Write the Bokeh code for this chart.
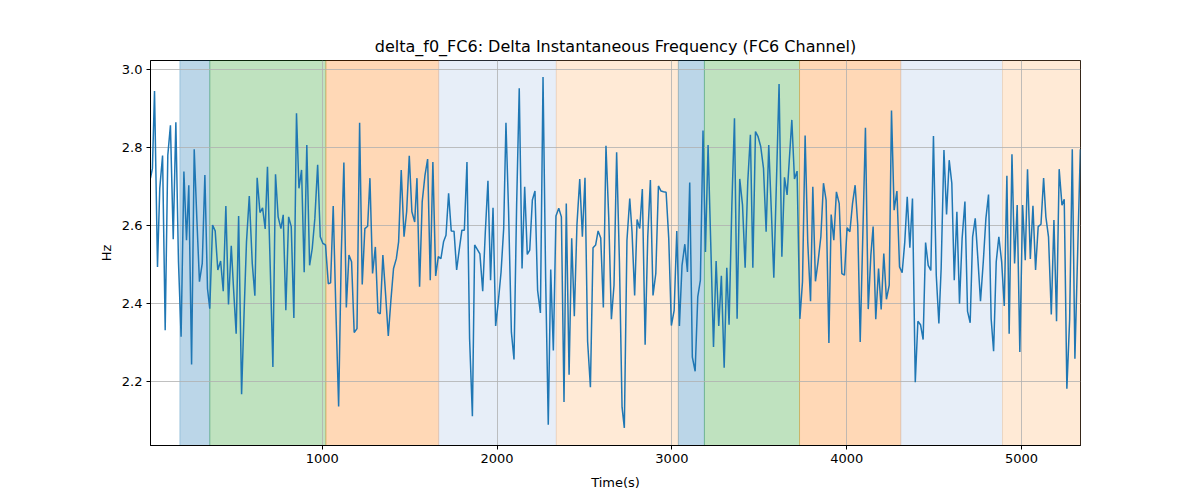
from bokeh.plotting import figure
from bokeh.models import Range1d, BoxAnnotation, FixedTicker, PrintfTickFormatter
from bokeh.embed import file_html
from bokeh.resources import INLINE

# values
time_s = [18, 29, 41, 58, 71, 87, 102, 117, 132, 148, 163, 178, 193, 209, 224, 237, 253, 268, 283, 298,
          314, 329, 344, 357, 373, 388, 403, 419, 434, 449, 464, 480, 493, 508, 522, 539, 554, 567, 583, 600,
          615, 628, 644, 659, 674, 687, 703, 718, 733, 748, 764, 777, 792, 808, 823, 838, 853, 867, 882, 897,
          912,
          928, 943, 958, 974, 989, 1004, 1019, 1035, 1048, 1063, 1078, 1094, 1109, 1124, 1138, 1153, 1168, 1183, 1199, 1214,
          1229, 1244, 1260, 1273, 1288, 1304, 1319, 1332, 1347, 1363, 1378, 1393, 1408, 1424, 1437, 1452, 1468, 1483, 1498, 1513,
          1529, 1542, 1557, 1572, 1588, 1603, 1618, 1633, 1649, 1664, 1679, 1694, 1708, 1723, 1738, 1754, 1769, 1784,
          1799, 1813, 1828, 1843, 1859, 1872, 1887, 1902, 1918, 1933, 1948, 1963, 1977, 1992, 2007, 2023, 2038, 2051, 2066, 2082,
          2097, 2112, 2127, 2143, 2158, 2173, 2187, 2202, 2217, 2232, 2248, 2263, 2278, 2293, 2307, 2322, 2337, 2353, 2368, 2383,
          2396, 2412, 2427, 2442, 2457, 2473, 2488, 2503, 2518, 2534, 2549, 2564, 2578, 2593, 2608, 2623, 2639, 2654, 2669, 2684,
          2700, 2715, 2728, 2743, 2759,
          2772, 2787, 2801, 2816, 2831, 2847, 2862, 2877, 2892, 2908, 2923, 2938, 2952, 2967, 2982, 2997, 3013, 3028, 3043, 3058,
          3074, 3089, 3102, 3117, 3133, 3148, 3163, 3178, 3192, 3207, 3222, 3238, 3253, 3268, 3283, 3299, 3314, 3327, 3343, 3358,
          3373, 3388, 3404, 3419, 3434, 3449, 3463, 3478, 3493, 3508, 3524, 3539, 3554, 3569, 3583, 3598, 3613, 3629, 3644, 3659,
          3686, 3701, 3716, 3732, 3747, 3762, 3777, 3793, 3806, 3821, 3836, 3852, 3867, 3882, 3898, 3911, 3926, 3941, 3957, 3972,
          3987, 4002, 4018, 4033, 4048, 4063, 4077, 4092, 4107, 4123, 4138, 4151, 4166, 4182, 4197, 4212, 4227, 4243, 4256, 4271,
          4287, 4302, 4317, 4332, 4346, 4361, 4376, 4392, 4407, 4422, 4437, 4451, 4466, 4481,
          4496, 4512, 4527, 4540, 4556, 4571, 4586, 4601, 4615, 4630, 4645, 4660, 4676, 4691, 4706, 4720, 4735, 4750, 4765, 4781,
          4796, 4811, 4826, 4840, 4855, 4870, 4886, 4901, 4916, 4929, 4945, 4960, 4975, 4990, 5006, 5021, 5034, 5050, 5065, 5080,
          5095, 5111, 5126, 5139, 5154, 5170, 5185, 5200, 5215, 5231, 5244, 5259, 5275, 5290, 5305, 5336]

delta_hz = [2.721, 2.746, 2.944, 2.494, 2.695, 2.779, 2.332, 2.780, 2.856, 2.565, 2.864, 2.507, 2.315, 2.738, 2.562, 2.703, 2.244, 2.795, 2.618, 2.456,
            2.503, 2.729, 2.438, 2.387, 2.601, 2.586, 2.486, 2.509, 2.432, 2.650, 2.398, 2.548, 2.438, 2.323, 2.624, 2.168, 2.387, 2.558, 2.675, 2.503,
            2.420, 2.722, 2.633, 2.645, 2.591, 2.750, 2.490, 2.238, 2.731, 2.622, 2.592, 2.627, 2.383, 2.622, 2.597, 2.363, 2.887, 2.695, 2.742, 2.480,
            2.806,
            2.498, 2.541, 2.618, 2.755, 2.571, 2.554, 2.550, 2.451, 2.453, 2.650, 2.387, 2.137, 2.524, 2.761, 2.390, 2.524, 2.507, 2.326, 2.336, 2.863,
            2.449, 2.592, 2.598, 2.721, 2.477, 2.545, 2.377, 2.374, 2.524, 2.421, 2.317, 2.409, 2.490, 2.515, 2.558, 2.742, 2.571, 2.635, 2.778, 2.635,
            2.609, 2.721, 2.443, 2.661, 2.729, 2.770, 2.460, 2.762, 2.471, 2.520, 2.515, 2.558, 2.575, 2.682, 2.586, 2.585, 2.486, 2.539,
            2.588, 2.588, 2.762, 2.310, 2.112, 2.550, 2.539, 2.527, 2.432, 2.584, 2.714, 2.460, 2.645, 2.343, 2.404, 2.481, 2.592, 2.863, 2.635, 2.327,
            2.257, 2.652, 2.951, 2.490, 2.699, 2.526, 2.537, 2.665, 2.688, 2.434, 2.376, 2.980, 2.464, 2.090, 2.487, 2.280, 2.624, 2.644, 2.622, 2.148,
            2.656, 2.218, 2.567, 2.368, 2.602, 2.719, 2.571, 2.722, 2.303, 2.186, 2.543, 2.550, 2.586, 2.568, 2.390, 2.804, 2.618, 2.360, 2.447, 2.787,
            2.507, 2.135, 2.082, 2.562, 2.669,
            2.584, 2.421, 2.615, 2.592, 2.693, 2.295, 2.571, 2.716, 2.421, 2.477, 2.701, 2.688, 2.686, 2.685, 2.567, 2.344, 2.383, 2.586, 2.343, 2.498,
            2.552, 2.481, 2.710, 2.263, 2.227, 2.417, 2.460, 2.843, 2.532, 2.806, 2.558, 2.289, 2.509, 2.343, 2.471, 2.236, 2.492, 2.346, 2.652, 2.874,
            2.361, 2.719, 2.652, 2.492, 2.712, 2.832, 2.492, 2.840, 2.827, 2.802, 2.746, 2.584, 2.806, 2.635, 2.466, 2.712, 2.962, 2.520, 2.723, 2.678,
            2.870, 2.719, 2.739, 2.361, 2.456, 2.830, 2.558, 2.406, 2.699, 2.457, 2.507, 2.571, 2.708, 2.665, 2.299, 2.628, 2.562, 2.686, 2.656, 2.477,
            2.473, 2.594, 2.584, 2.656, 2.703, 2.601, 2.302, 2.575, 2.850, 2.386, 2.524, 2.597, 2.360, 2.490, 2.385, 2.528, 2.411, 2.447, 2.894, 2.639,
            2.688, 2.494, 2.479, 2.558, 2.673, 2.543, 2.669, 2.199, 2.355, 2.346, 2.308, 2.556, 2.498, 2.485,
            2.829, 2.473, 2.349, 2.490, 2.793, 2.628, 2.767, 2.708, 2.460, 2.635, 2.400, 2.567, 2.661, 2.380, 2.351, 2.571, 2.618, 2.515, 2.406, 2.507,
            2.618, 2.679, 2.361, 2.278, 2.507, 2.571, 2.507, 2.394, 2.727, 2.323, 2.782, 2.503, 2.652, 2.276, 2.652, 2.511, 2.744, 2.514, 2.650, 2.486,
            2.597, 2.603, 2.721, 2.622, 2.571, 2.372, 2.614, 2.355, 2.744, 2.652, 2.667, 2.182, 2.361, 2.795, 2.259, 2.795]

# shaded segments
seg_start = [186, 357, 1021, 1666, 2339, 3037, 3186, 3730, 4309, 4891]
seg_end = [357, 1021, 1666, 2339, 3037, 3186, 3730, 4309, 4891, 5337]
seg_kind = ["a", "b", "c", "d", "e", "a", "b", "c", "d", "e"]

x_ticks = [1000, 2000, 3000, 4000, 5000]
y_ticks = [2.2, 2.4, 2.6, 2.8, 3.0]

kind_color = {"a": "#1f77b4", "b": "#2ca02c", "c": "#ff7f0e", "d": "#aec7e8", "e": "#ffbb78"}
FONT = "DejaVu Sans"

p = figure(frame_width=930, frame_height=385,
           min_border_left=150, min_border_right=104,
           min_border_top=60, min_border_bottom=47,
           x_range=Range1d(18, 5337), y_range=Range1d(2.037, 3.022),
           title="delta_f0_FC6: Delta Instantaneous Frequency (FC6 Channel)",
           x_axis_label="Time(s)", y_axis_label="Hz",
           output_backend="svg", toolbar_location=None)

p.background_fill_color = "white"
p.border_fill_color = "white"
p.outline_line_color = "black"
p.outline_line_alpha = 1
p.outline_line_width = 1

#title
p.title.text_font = FONT
p.title.text_font_size = "16px"
p.title.text_font_style = "normal"
p.title.text_color = "black"
p.title.align = "center"

#shaded spans, under the grid
for s, e, k in zip(seg_start, seg_end, seg_kind):
    p.add_layout(BoxAnnotation(left=s, right=e,
                               fill_color=kind_color[k], fill_alpha=0.3,
                               line_color=kind_color[k], line_alpha=0.3,
                               line_width=1, level="image"))

#axes
p.xaxis.ticker = FixedTicker(ticks=x_ticks)
p.yaxis.ticker = FixedTicker(ticks=y_ticks)
p.xaxis.formatter = PrintfTickFormatter(format="%d")
p.yaxis.formatter = PrintfTickFormatter(format="%.1f")
for ax in (p.xaxis, p.yaxis):
    ax.axis_line_color = "black"
    ax.major_tick_line_color = "black"
    ax.major_tick_out = 4
    ax.major_tick_in = 0
    ax.minor_tick_out = 0
    ax.minor_tick_in = 0
    ax.major_label_text_font = FONT
    ax.major_label_text_font_size = "13px"
    ax.major_label_text_color = "black"
    ax.axis_label_text_font = FONT
    ax.axis_label_text_font_size = "13px"
    ax.axis_label_text_font_style = "normal"
    ax.axis_label_text_color = "black"
    ax.major_label_standoff = 4
p.xaxis.axis_label_standoff = 9

p.grid.grid_line_color = "#b0b0b0"
p.grid.grid_line_width = 0.8

p.line(time_s, delta_hz, line_color="#1f77b4", line_width=1.5)

open("out.html", "w").write(file_html(p, INLINE))
